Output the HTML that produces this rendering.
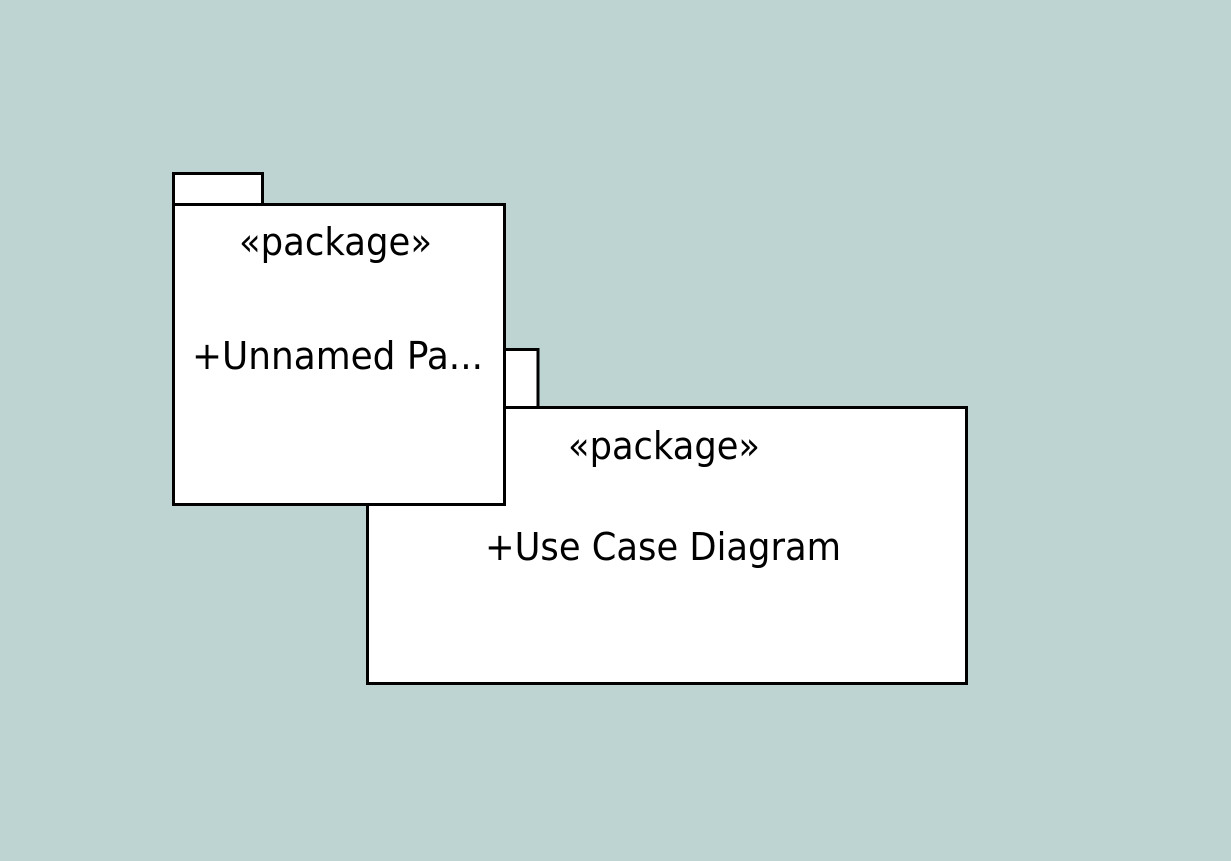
<!DOCTYPE html>
<html><head><meta charset="utf-8"><style>
html,body{margin:0;padding:0;background:#bed4d3;}
svg{display:block;}
text{font-family:"DejaVu Sans","Liberation Sans",sans-serif;font-size:38px;fill:#000;}
</style></head><body>
<svg width="1231" height="861" viewBox="0 0 1231 861" xmlns="http://www.w3.org/2000/svg">
<rect width="1231" height="861" fill="#bed4d3"/>
<rect x="480" y="349.5" width="58" height="58" fill="#fff" stroke="#000" stroke-width="3"/>
<rect x="367.5" y="407.5" width="599" height="276" fill="#fff" stroke="#000" stroke-width="3"/>
<text x="568" y="459" textLength="192" lengthAdjust="spacingAndGlyphs">«package»</text>
<text x="485" y="560" textLength="356" lengthAdjust="spacingAndGlyphs">+Use Case Diagram</text>
<rect x="173.5" y="173.5" width="89" height="31" fill="#fff" stroke="#000" stroke-width="3"/>
<rect x="173.5" y="204.5" width="331" height="300" fill="#fff" stroke="#000" stroke-width="3"/>
<text x="239" y="255" textLength="193" lengthAdjust="spacingAndGlyphs">«package»</text>
<text x="192" y="369" textLength="291" lengthAdjust="spacingAndGlyphs">+Unnamed Pa...</text>
</svg>
</body></html>
